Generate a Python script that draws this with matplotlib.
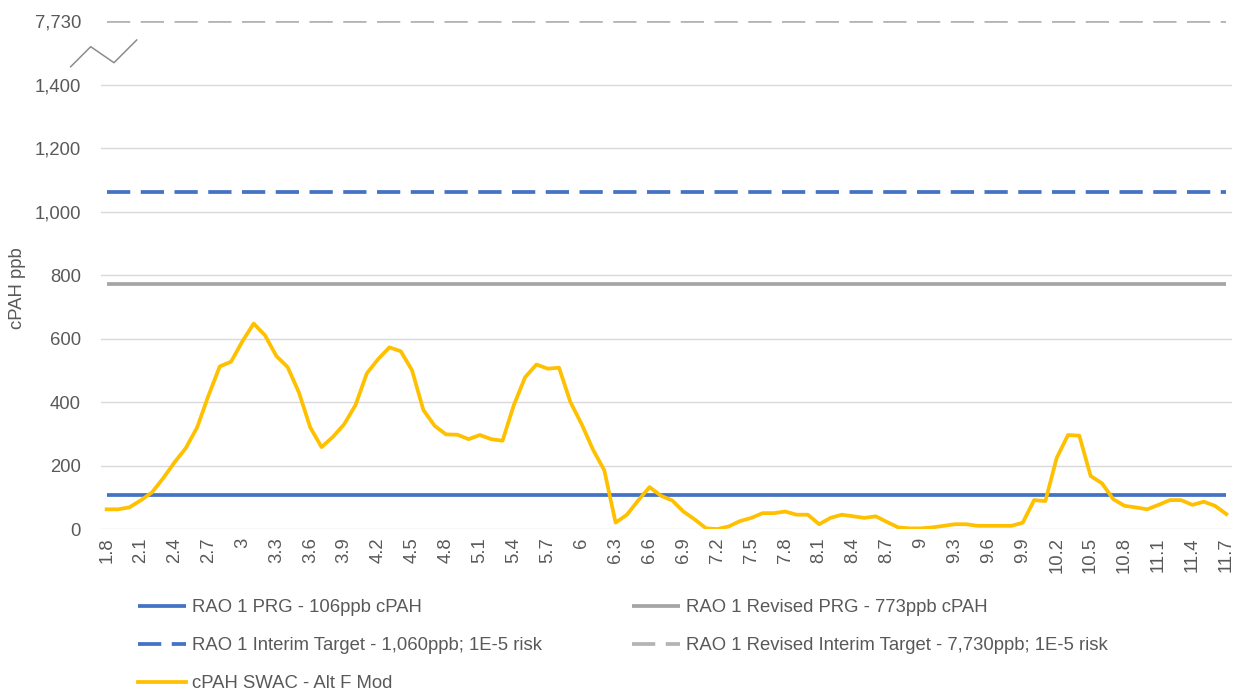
import matplotlib
matplotlib.use("Agg")
import matplotlib.pyplot as plt
from matplotlib.lines import Line2D
import numpy as np

plt.rcParams['font.family'] = ['Liberation Sans', 'DejaVu Sans']

# x categories (depth / station) 1.8 .. 11.7
stations = [f"{v:g}" for v in np.round(np.arange(18, 118) / 10, 1)]

swac = [62, 62, 68, 90, 115, 160, 210, 255, 320, 420,
        512, 527, 591, 647, 610, 545, 510, 430, 320, 258,
        290, 330, 390, 490, 535, 572, 560, 500, 375, 325,
        298, 297, 283, 296, 283, 278, 390, 478, 518, 505,
        508, 400, 330, 250, 185, 20, 45, 90, 132, 105,
        90, 55, 30, 2, 0, 8, 25, 35, 50, 50,
        55, 45, 45, 15, 35, 45, 40, 35, 40, 22,
        5, 2, 2, 5, 10, 15, 15, 10, 10, 10,
        10, 20, 91, 88, 224, 296, 294, 167, 144, 94,
        73, 68, 62, 76, 91, 91, 76, 86, 73, 47]

prg = 106
revised_prg = 773
interim = 1060
revised_interim = 7730

y_ticks = [0, 200, 400, 600, 800, 1000, 1200, 1400]
BREAK_AT = 1400
BREAK_POS = 1600


def to_axis(v):
    # values above the break are drawn on the extra band at the top
    return v if v <= BREAK_AT else BREAK_POS


blue = "#4472C4"
gray = "#A5A5A5"
yellow = "#FFC000"
txt = "#595959"
fs = 13.3

fig = plt.figure(figsize=(12.42, 6.94), dpi=100)
ax = fig.add_axes([101 / 1242, 1 - 529 / 694, (1232 - 101) / 1242, (529 - 21) / 694])

x = np.arange(len(stations))
n = len(x)
lw = 2.7
dash = (0, (6.2, 2.8))

l_prg, = ax.plot(x, [prg] * n, color=blue, lw=lw, solid_capstyle="butt")
l_rprg, = ax.plot(x, [revised_prg] * n, color=gray, lw=lw, solid_capstyle="butt")
l_int, = ax.plot(x, [interim] * n, color=blue, lw=lw, ls=dash, dash_capstyle="butt")
l_rint, = ax.plot(x, [to_axis(revised_interim)] * n, color="#B4B4B4", lw=lw, ls=dash,
                  dash_capstyle="butt")
l_swac, = ax.plot(x, swac, color=yellow, lw=lw, solid_joinstyle="round")

ax.set_xlim(-0.5, n - 0.5)
ax.set_ylim(0, BREAK_POS)
ax.set_yticks(y_ticks + [BREAK_POS])
ax.set_yticklabels([f"{v:,}" for v in y_ticks] + [f"{revised_interim:,}"])
ax.set_xticks(x[::3])
ax.set_xticklabels(stations[::3], rotation=90)
ax.tick_params(axis="both", length=0, colors=txt, labelsize=fs)
ax.tick_params(axis="y", pad=14.4)
ax.tick_params(axis="x", pad=6)
for t in y_ticks:
    ax.axhline(t, color="#D9D9D9", lw=1, zorder=0)
for s in ax.spines.values():
    s.set_visible(False)

fig.text(18 / 1242, 1 - 288 / 694, "cPAH ppb", rotation=90, ha="center", va="center",
         fontsize=fs, color=txt)

# axis break mark
zx = np.array([70.7, 90.7, 114, 136.7]) / 1242
zy = 1 - np.array([66.7, 46.7, 62.7, 40]) / 694
fig.add_artist(Line2D(zx, zy, color="#8C8C8C", lw=1.1, transform=fig.transFigure))

handles = [l_prg, l_int, l_swac, l_rprg, l_rint]
labels = ["RAO 1 PRG - 106ppb cPAH",
          "RAO 1 Interim Target - 1,060ppb; 1E-5 risk",
          "cPAH SWAC - Alt F Mod",
          "RAO 1 Revised PRG - 773ppb cPAH",
          "RAO 1 Revised Interim Target - 7,730ppb; 1E-5 risk"]
leg = fig.legend(handles, labels, ncol=2, loc="upper left",
                 bbox_to_anchor=(138 / 1242, 1 - 599 / 694), frameon=False,
                 fontsize=fs, labelcolor=txt, handlelength=2.6, handletextpad=0.3,
                 labelspacing=1.15, columnspacing=4.9, borderpad=0, borderaxespad=0)

fig.savefig("out.png", dpi=100)
